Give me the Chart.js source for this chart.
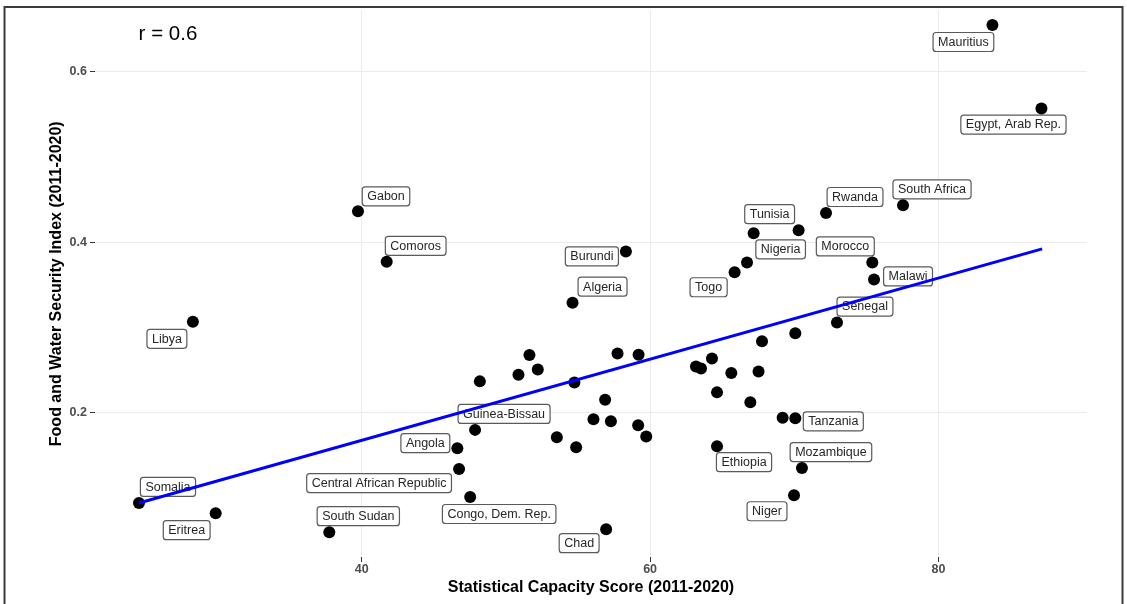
<!DOCTYPE html>
<html>
<head>
<meta charset="utf-8">
<script src="https://cdn.jsdelivr.net/npm/chart.js@4.4.1/dist/chart.umd.min.js"></script>
<style>
  html, body { margin: 0; padding: 0; background: #fff; }
  #wrap { width: 1127px; height: 604px; position: relative; }
</style>
</head>
<body>
<div id="wrap"><canvas id="chart"></canvas></div>
<script>
/* Statistical capacity vs. food & water security, African countries (2011-2020 averages) */

const countries = [
  'Mauritius', 'Egypt, Arab Rep.', 'South Africa', 'Rwanda', 'Tunisia', 'Nigeria', '', 'Togo',
  'Morocco', 'Malawi', 'Senegal', '', '', '', '', '', '', '', '', '', '', 'Tanzania',
  'Mozambique', 'Niger', 'Ethiopia', 'Chad', '', '', '', '', '', '', '', '', '', '', '', '', '', '',
  'Guinea-Bissau', 'Angola', 'Central African Republic', 'Congo, Dem. Rep.', 'Gabon', 'Comoros',
  'Burundi', 'Algeria', 'Libya', 'Somalia', 'Eritrea', 'South Sudan',
];

const capacity = [
  83.74, 87.14, 77.54, 72.2, 70.3, 67.18, 66.72, 65.86,
  75.41, 75.53, 72.96, 70.07, 67.76, 64.29, 63.18, 63.53, 65.63, 67.52, 64.64, 66.95, 69.19, 70.07,
  70.53, 69.98, 64.64, 56.95, 59.73, 59.17, 57.28, 56.07, 56.88, 54.87, 53.53, 54.75, 57.74, 59.2, 51.63, 52.21, 50.87, 48.19,
  47.86, 46.63, 46.75, 47.52, 39.74, 41.73,
  58.32, 54.62, 28.29, 24.55, 29.87, 37.75,
];

const security = [
  0.655, 0.557, 0.4435, 0.4345, 0.4143, 0.4107, 0.3765, 0.365,
  0.3765, 0.3566, 0.306, 0.2935, 0.284, 0.2639, 0.2545, 0.2522, 0.2468, 0.2487, 0.2241, 0.2126, 0.1942, 0.1937,
  0.1353, 0.1034, 0.161, 0.0636, 0.1723, 0.1855, 0.1902, 0.1925, 0.2155, 0.1598, 0.1715, 0.2358, 0.2697, 0.2682, 0.2678, 0.251, 0.2448, 0.237,
  0.1801, 0.1586, 0.1341, 0.1014, 0.4365, 0.3772,
  0.3894, 0.3293, 0.3068, 0.0944, 0.0824, 0.0601,
];

// linear fit (geom_smooth, method = lm) over the data range
const trendX = [24.55, 87.19];
const trendY = [0.0944, 0.3924];
const corr = 0.6;

const X_TICKS = [40, 60, 80];
const Y_TICKS = [0.2, 0.4, 0.6];

// where each repelled label box sits relative to its point (px)
const labelNudge = {
  'Mauritius': [-29, 17], 'Egypt, Arab Rep.': [-28, 16], 'South Africa': [29, -16],
  'Rwanda': [29, -16], 'Tunisia': [-29, -16], 'Nigeria': [27, 16], 'Togo': [-26, 15],
  'Morocco': [-27, -16], 'Malawi': [34, -3], 'Senegal': [28, -16], 'Tanzania': [38, 3],
  'Mozambique': [29, -16], 'Niger': [-27, 16], 'Ethiopia': [27, 16], 'Chad': [-27, 14],
  'Congo, Dem. Rep.': [29, 17], 'Central African Republic': [-80, 14], 'Angola': [-32, -5],
  'Guinea-Bissau': [29, -16], 'South Sudan': [29, -16], 'Somalia': [29, -16],
  'Eritrea': [-29, 17], 'Libya': [-26, 17], 'Gabon': [28, -15], 'Comoros': [29, -16],
  'Burundi': [-34, 5], 'Algeria': [30, -16],
};

const FONT = '"Liberation Sans", Arial, Helvetica, sans-serif';

// ─── Plugins ────────────────────────────────────────────────────────────────

const labelBoxes = {
  id: 'labelBoxes',
  beforeDatasetsDraw(chart) {
    const { ctx, scales: { x, y } } = chart;
    ctx.save();
    ctx.font = `12.5px ${FONT}`;
    ctx.textAlign = 'center';
    ctx.textBaseline = 'middle';
    countries.forEach((name, i) => {
      if (!name) return;
      const [dx, dy] = labelNudge[name];
      const cx = x.getPixelForValue(capacity[i]) + dx;
      const cy = y.getPixelForValue(security[i]) + dy;
      const w = ctx.measureText(name).width + 10;
      const h = 19;
      ctx.beginPath();
      ctx.roundRect(cx - w / 2, cy - h / 2, w, h, 3);
      ctx.fillStyle = '#fff';
      ctx.fill();
      ctx.lineWidth = 1.2;
      ctx.strokeStyle = '#5a5a5a';
      ctx.stroke();
      ctx.fillStyle = '#262626';
      ctx.fillText(name, cx, cy + 0.5);
    });
    ctx.restore();
  },
};

const annotations = {
  id: 'annotations',
  afterDraw(chart) {
    const { ctx, scales: { x, y } } = chart;
    ctx.save();
    // correlation note, top left of the panel
    ctx.font = `20.5px ${FONT}`;
    ctx.fillStyle = '#000';
    ctx.textAlign = 'center';
    ctx.textBaseline = 'middle';
    ctx.fillText(`r = ${corr.toFixed(1)}`, x.getPixelForValue(26.56), y.getPixelForValue(0.644));
    // outer frame
    ctx.strokeStyle = '#3a3a3a';
    ctx.lineWidth = 2;
    ctx.beginPath();
    ctx.moveTo(4.5, 604);
    ctx.lineTo(4.5, 7);
    ctx.lineTo(1122.5, 7);
    ctx.lineTo(1122.5, 604);
    ctx.stroke();
    ctx.restore();
  },
};

// ─── Chart ──────────────────────────────────────────────────────────────────

const tickFont = { family: FONT, size: 12.5, weight: 'bold' };
const titleFont = { family: FONT, size: 16, weight: 'bold' };

new Chart(document.getElementById('chart'), {
  type: 'scatter',
  data: {
    datasets: [
      {
        type: 'line',
        data: trendX.map((v, i) => ({ x: v, y: trendY[i] })),
        borderColor: '#0000ff',
        borderWidth: 3,
        pointRadius: 0,
        order: 0,
      },
      {
        data: capacity.map((v, i) => ({ x: v, y: security[i] })),
        backgroundColor: '#000',
        borderWidth: 0,
        pointRadius: 6,
        order: 1,
      },
    ],
  },
  options: {
    responsive: true,
    maintainAspectRatio: false,
    animation: false,
    layout: { padding: { left: 0, top: 8, right: 40, bottom: 0 } },
    plugins: { legend: { display: false }, tooltip: { enabled: false } },
    scales: {
      x: {
        type: 'linear',
        min: 21.5,
        max: 90.3,
        afterBuildTicks: s => { s.ticks = X_TICKS.map(value => ({ value })); },
        afterFit: s => { s.height = 47; },
        border: { display: false },
        grid: { color: '#ebebeb', lineWidth: 1, tickColor: '#333', tickLength: 5 },
        ticks: { color: '#4d4d4d', font: tickFont, padding: 0, maxRotation: 0 },
        title: {
          display: true,
          text: 'Statistical Capacity Score (2011-2020)',
          color: '#000',
          font: titleFont,
          padding: { top: 0, bottom: 7 },
        },
      },
      y: {
        type: 'linear',
        min: 0.031,
        max: 0.672,
        afterBuildTicks: s => { s.ticks = Y_TICKS.map(value => ({ value })); },
        afterFit: s => { s.width = 95; },
        border: { display: false },
        grid: { color: '#ebebeb', lineWidth: 1, tickColor: '#333', tickLength: 5 },
        ticks: { color: '#4d4d4d', font: tickFont, padding: 3, callback: v => v.toFixed(1) },
        title: {
          display: true,
          text: 'Food and Water Security Index (2011-2020)',
          color: '#000',
          font: titleFont,
          padding: { top: 47, bottom: 0 },
        },
      },
    },
  },
  plugins: [labelBoxes, annotations],
});
</script>
</body>
</html>
